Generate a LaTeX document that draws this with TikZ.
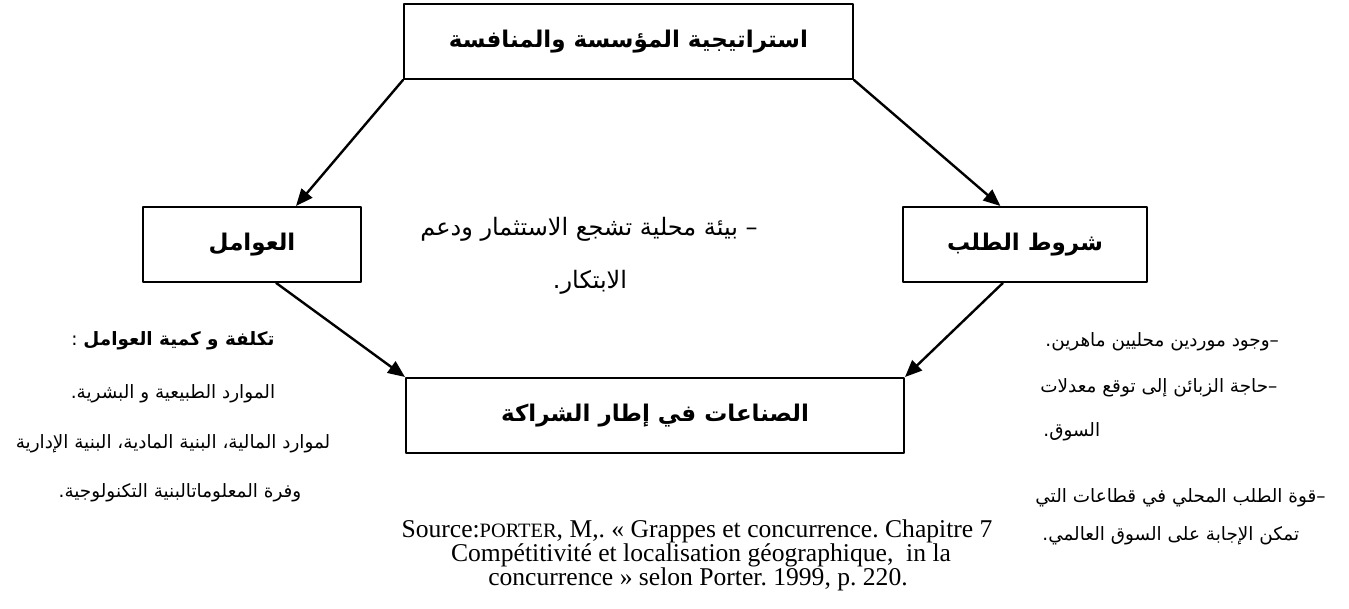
\documentclass[tikz,border=0pt]{standalone}
\usepackage{fontspec}
\setmainfont{Liberation Serif}
\newfontfamily\arabicfont[Script=Arabic]{DejaVu Sans}
\TeXXeTstate=1
\frenchspacing
\usetikzlibrary{arrows.meta,calc}
\usetikzlibrary{positioning}

\tikzset{
  box/.style={draw, line width=1pt, minimum height=37.5pt, inner sep=0pt,
    font=\arabicfont\bfseries\fontsize{11.5}{14}\selectfont},
  arr/.style={line width=1.2pt, -{Triangle[length=8.5pt,width=7pt]}},
  txt/.style={inner sep=0pt, font=\arabicfont\fontsize{9.2}{11}\selectfont},
  mid/.style={inner sep=0pt, font=\arabicfont\fontsize{12}{14}\selectfont},
  src/.style={inner sep=0pt, anchor=base, font=\fontsize{12.8}{14}\selectfont}
}

\begin{document}
\begin{tikzpicture}[x=0.5pt, y=-0.5pt, line cap=round, line join=round]
  \useasboundingbox (0,0) rectangle (1349,609);

  % Boxes
  \node[box, minimum width=224.5pt] (strat) at (628.5,41.5) {\beginR استراتيجية المؤسسة والمنافسة\endR};
  \node[box, minimum width=109pt] (fact) at (252,244.5) {\beginR العوامل\endR};
  \node[box, minimum width=122pt] (dem) at (1025,244.5) {\beginR شروط الطلب\endR};
  \node[box, minimum width=249pt] (ind) at (655,415.5) {\beginR الصناعات في إطار الشراكة\endR};

  % Arrows
  \draw[arr] (strat.south west) -- ($(fact.north west)!0.7!(fact.north east)$);
  \draw[arr] (strat.south east) -- ($(dem.north west)!0.4!(dem.north east)$);
  \draw[arr] ($(fact.south west)!0.61!(fact.south east)$) -- (ind.north west);
  \draw[arr] ($(dem.south west)!0.41!(dem.south east)$) -- (ind.north east);

  % Centre text
  \node[mid, anchor=east] (env1) at (758,229) {\beginR – بيئة محلية  تشجع الاستثمار ودعم\endR};
  \node[mid] (env2) at (590,282) {\beginR الابتكار.\endR};

  % Factor conditions
  \node[txt] (fc1) at (173,341) {\beginR\textbf{تكلفة و كمية العوامل} :\endR};
  \node[txt] (fc2) at (173,394) {\beginR الموارد الطبيعية و البشرية.\endR};
  \node[txt] (fc3) at (173,444) {\beginR لموارد المالية، البنية المادية، البنية الإدارية\endR};
  \node[txt] (fc4) at (180,493) {\beginR وفرة المعلوماتالبنية التكنولوجية.\endR};

  % Demand conditions
  \node[txt, anchor=west] (dc1) at (1045,342) {\beginR –وجود موردين محليين ماهرين.\endR};
  \node[txt, anchor=west] (dc2) at (1040,388) {\beginR –حاجة الزبائن إلى توقع معدلات\endR};
  \node[txt, anchor=west] (dc3) at (1043,432) {\beginR السوق.\endR};
  \node[txt, anchor=west] (dc4) at (1035,498) {\beginR –قوة الطلب المحلي في قطاعات التي\endR};
  \node[txt, anchor=west] (dc5) at (1042,536) {\beginR تمكن الإجابة على السوق العالمي.\endR};

  % Source
  \node[src] (s1) at (697,537) {Source:{\fontsize{10.2}{12}\selectfont PORTER}, M,. « Grappes et concurrence. Chapitre 7};
  \node[src] (s2) at (701,561) {Compétitivité et localisation géographique,~ in la};
  \node[src] (s3) at (698,585) {concurrence » selon Porter. 1999, p. 220.};
\end{tikzpicture}
\end{document}
